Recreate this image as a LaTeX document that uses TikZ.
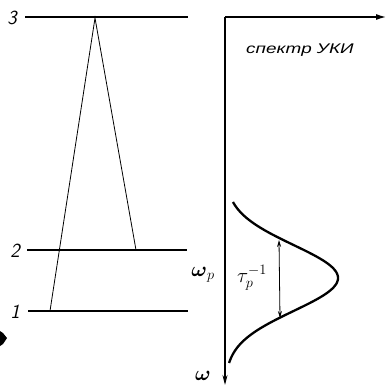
\documentclass[tikz,border=0pt]{standalone}
\usepackage{fontspec}
\usepackage{amsmath}
\usepackage{graphicx}
\newfontfamily\cyr{Liberation Sans}
\usetikzlibrary{arrows.meta}
\begin{document}
\begin{tikzpicture}[x=1pt,y=-1pt,
  level/.style={line width=2pt},
  trans/.style={line width=0.8pt},
  axis/.style={line width=1.2pt},
  lbl/.style={font=\sffamily\itshape\fontsize{20}{20}\selectfont, inner sep=0pt},
  mlbl/.style={font=\fontsize{20}{20}\selectfont, inner sep=0pt},
]
\useasboundingbox (0,0) rectangle (386,386);
% levels
\coordinate (l3a) at (25,17); \coordinate (l3b) at (188,17);
\coordinate (l2a) at (27,250); \coordinate (l2b) at (187,250);
\coordinate (l1a) at (28,311); \coordinate (l1b) at (188,311);
\draw[level] (l3a) -- (l3b);
\draw[level] (l2a) -- (l2b);
\draw[level] (l1a) -- (l1b);
\node[lbl] (n3) at (12,18) {3};
\node[lbl] (n2) at (15,251) {2};
\node[lbl] (n1) at (15,312) {1};
% transitions
\coordinate (top) at (95,18);
\coordinate (e1) at (50,311);
\coordinate (e2) at (136,250);
\draw[trans] (e1) -- (top) -- (e2);
% blob
\fill (0,331) -- (3,333) -- (7,338) -- (3,344) -- (0,346) -- cycle;
% axes
\coordinate (O) at (225,17);
\coordinate (X) at (386,17);
\coordinate (Y) at (225,385);
\draw[axis,-{Latex[length=10pt,width=6pt]}] (O) -- (X);
\draw[axis,-{Stealth[length=10pt,width=5pt]}] (O) -- (Y);
\node[font=\cyr\itshape\fontsize{14}{14}\selectfont, inner sep=0pt] (spec) at (300,50) {\scalebox{1.35}[1]{спектр УКИ}};
% spectrum curve
\draw[line width=2.3pt,domain=202:363,samples=100,smooth,variable=\t]
  plot ({225+113*exp(-((\t-278)^2)/(2*33*33))},\t);
\coordinate (h1) at (279,240);
\coordinate (h2) at (280,318);
\draw[line width=0.8pt,{Stealth[length=7pt,width=4pt]}-{Stealth[length=7pt,width=4pt]}] (h1) -- (h2);
\node[mlbl] (tau) at (252,278) {$\tau_p^{-1}$};
\node[mlbl] (wp) at (203,275) {$\boldsymbol{\omega}_p$};
\node[mlbl] (w) at (203,376) {$\boldsymbol{\omega}$};
\end{tikzpicture}
\end{document}
